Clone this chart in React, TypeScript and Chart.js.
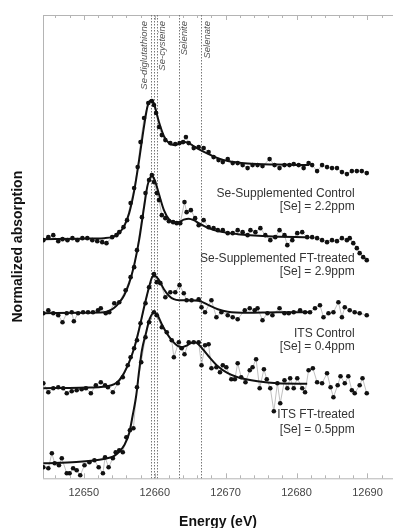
import React, { useEffect, useRef } from 'react';
import { Chart, registerables } from 'chart.js';
Chart.register(...registerables);

// ---- axis ----
const xTicks = [12650, 12660, 12670, 12680, 12690];
const xMin = 12644.25;
const xMax = 12693.6;
const yMin = 0;
const yMax = 4.63;

// ---- reference compounds ----
const refEnergies = [12659.5, 12659.88, 12660.26, 12663.37, 12666.54];
const refLabels = ['Se-diglutathione', '', 'Se-cysteine', 'Selenite', 'Selenate'];

// ---- samples ----
const sampleNames = ['Se-Supplemented Control', 'Se-Supplemented FT-treated', 'ITS Control', 'ITS FT-treated'];
const sampleConc = ['[Se] = 2.2ppm', '[Se] = 2.9ppm', '[Se] = 0.4ppm', '[Se] = 0.5ppm'];

// ---- spectrum 1 : Se-Supplemented Control ----
const s1E = [12644.3, 12645.0, 12645.7, 12646.4, 12647.0, 12647.7, 12648.4, 12649.1, 12649.8, 12650.5, 12651.2, 12651.9, 12652.6, 12653.2, 12654.0, 12654.6, 12655.0, 12655.6, 12656.1, 12656.6, 12657.1, 12657.6, 12658.0, 12658.5, 12659.1, 12659.6, 12659.9, 12660.2, 12660.6, 12661.0, 12661.5, 12662.2, 12662.9, 12663.5, 12664.0, 12664.4, 12664.8, 12665.5, 12666.2, 12666.9, 12667.6, 12668.3, 12669.0, 12669.6, 12670.3, 12671.0, 12671.7, 12672.4, 12673.1, 12673.8, 12674.5, 12675.2, 12676.2, 12676.9, 12677.6, 12678.3, 12679.0, 12679.6, 12680.3, 12681.0, 12681.7, 12682.2, 12682.9, 12683.6, 12684.3, 12685.0, 12685.7, 12686.4, 12687.1, 12687.8, 12688.5, 12689.2, 12689.9];
const s1A = [2.38, 2.41, 2.43, 2.37, 2.39, 2.38, 2.40, 2.38, 2.40, 2.40, 2.38, 2.37, 2.36, 2.35, 2.41, 2.43, 2.46, 2.51, 2.58, 2.75, 2.90, 3.11, 3.36, 3.60, 3.75, 3.77, 3.73, 3.65, 3.51, 3.43, 3.38, 3.35, 3.34, 3.35, 3.36, 3.41, 3.35, 3.30, 3.31, 3.30, 3.26, 3.21, 3.18, 3.16, 3.19, 3.15, 3.15, 3.13, 3.10, 3.13, 3.13, 3.12, 3.19, 3.13, 3.10, 3.13, 3.13, 3.14, 3.13, 3.10, 3.15, 3.13, 3.07, 3.13, 3.11, 3.10, 3.10, 3.06, 3.04, 3.07, 3.07, 3.07, 3.05];
const f1E = [12644.3, 12649.4, 12652.9, 12654.0, 12654.6, 12655.1, 12655.7, 12656.4, 12657.1, 12657.8, 12658.5, 12659.0, 12659.5, 12660.0, 12660.6, 12661.3, 12662.0, 12662.7, 12663.4, 12664.1, 12664.8, 12665.5, 12666.2, 12667.6, 12668.9, 12670.3, 12673.1, 12677.3, 12681.8];
const f1A = [2.39, 2.395, 2.40, 2.41, 2.43, 2.46, 2.52, 2.65, 2.87, 3.18, 3.52, 3.72, 3.78, 3.72, 3.56, 3.42, 3.35, 3.33, 3.34, 3.36, 3.35, 3.32, 3.29, 3.24, 3.20, 3.17, 3.145, 3.135, 3.13];

// ---- spectrum 2 : Se-Supplemented FT-treated ----
const s2E = [12644.3, 12645.0, 12645.7, 12646.4, 12647.0, 12647.6, 12648.3, 12648.6, 12649.2, 12649.9, 12650.6, 12651.3, 12652.0, 12652.4, 12653.1, 12653.6, 12654.3, 12655.0, 12655.9, 12656.6, 12657.1, 12657.5, 12658.2, 12658.7, 12659.2, 12659.6, 12659.9, 12660.3, 12660.6, 12661.0, 12661.5, 12662.0, 12662.6, 12663.1, 12663.6, 12664.2, 12664.5, 12665.1, 12665.7, 12666.2, 12666.9, 12667.6, 12668.3, 12668.9, 12669.6, 12670.3, 12671.0, 12671.7, 12672.4, 12673.1, 12673.5, 12674.2, 12674.9, 12675.6, 12676.3, 12677.0, 12677.6, 12678.3, 12678.7, 12679.4, 12680.1, 12680.8, 12681.5, 12682.2, 12682.9, 12683.6, 12684.3, 12685.0, 12685.7, 12686.4, 12687.1, 12687.5, 12688.0, 12688.5, 12688.9, 12689.4, 12689.9];
const s2A = [1.65, 1.68, 1.65, 1.63, 1.56, 1.65, 1.66, 1.57, 1.65, 1.66, 1.66, 1.66, 1.68, 1.70, 1.65, 1.66, 1.75, 1.76, 1.88, 2.01, 2.11, 2.28, 2.61, 2.85, 2.98, 3.03, 2.96, 2.85, 2.78, 2.63, 2.60, 2.57, 2.56, 2.55, 2.55, 2.76, 2.66, 2.68, 2.60, 2.53, 2.58, 2.51, 2.50, 2.48, 2.48, 2.45, 2.45, 2.48, 2.46, 2.43, 2.48, 2.46, 2.50, 2.43, 2.38, 2.41, 2.48, 2.43, 2.33, 2.38, 2.45, 2.46, 2.41, 2.41, 2.40, 2.38, 2.36, 2.38, 2.37, 2.40, 2.38, 2.40, 2.35, 2.30, 2.25, 2.21, 2.18];
const f2E = [12644.3, 12649.4, 12652.9, 12653.6, 12654.3, 12655.0, 12655.7, 12656.4, 12657.1, 12657.8, 12658.5, 12659.0, 12659.6, 12660.0, 12660.6, 12661.3, 12662.0, 12662.7, 12663.4, 12664.1, 12664.8, 12665.5, 12666.2, 12667.6, 12668.9, 12671.7, 12675.9, 12681.8];
const f2A = [1.65, 1.655, 1.66, 1.675, 1.705, 1.755, 1.83, 1.95, 2.13, 2.38, 2.71, 2.93, 3.02, 2.98, 2.84, 2.68, 2.59, 2.56, 2.56, 2.585, 2.595, 2.58, 2.55, 2.50, 2.47, 2.44, 2.42, 2.41];

// ---- spectrum 3 : ITS Control ----
const s3E = [12644.3, 12645.0, 12645.7, 12646.4, 12647.1, 12647.6, 12648.3, 12649.0, 12649.7, 12650.3, 12651.0, 12651.7, 12652.4, 12653.0, 12653.4, 12654.1, 12654.8, 12655.5, 12656.2, 12656.6, 12657.1, 12657.5, 12658.0, 12658.7, 12659.2, 12659.9, 12660.3, 12660.8, 12661.5, 12662.2, 12662.9, 12663.5, 12664.1, 12664.5, 12665.2, 12666.2, 12666.6, 12667.1, 12668.0, 12668.7, 12669.4, 12670.3, 12671.0, 12671.7, 12672.7, 12673.4, 12674.1, 12674.5, 12675.2, 12675.9, 12676.6, 12677.6, 12678.3, 12678.9, 12679.6, 12680.5, 12681.2, 12681.9, 12682.6, 12683.3, 12683.8, 12684.5, 12685.2, 12685.9, 12686.4, 12686.8, 12687.5, 12688.2, 12688.9, 12689.9];
const s3A = [0.95, 0.86, 0.90, 0.91, 0.90, 0.85, 0.87, 0.88, 0.89, 0.90, 0.85, 0.93, 0.96, 0.93, 0.91, 0.86, 0.95, 1.01, 1.13, 1.21, 1.30, 1.38, 1.55, 1.75, 1.91, 2.04, 1.96, 1.95, 1.81, 1.86, 1.86, 1.93, 1.85, 1.78, 1.78, 1.79, 1.71, 1.66, 1.78, 1.61, 1.66, 1.63, 1.61, 1.59, 1.68, 1.70, 1.68, 1.70, 1.58, 1.65, 1.63, 1.70, 1.65, 1.65, 1.66, 1.68, 1.66, 1.66, 1.70, 1.73, 1.61, 1.65, 1.66, 1.76, 1.61, 1.71, 1.68, 1.66, 1.65, 1.63];
const f3E = [12644.3, 12649.4, 12653.3, 12654.3, 12655.0, 12655.7, 12656.4, 12657.1, 12657.8, 12658.5, 12659.2, 12659.7, 12660.1, 12660.6, 12661.3, 12662.0, 12662.7, 12663.4, 12664.8, 12666.2, 12667.6, 12668.9, 12670.3, 12673.1, 12677.3, 12681.8];
const f3A = [0.90, 0.905, 0.92, 0.94, 0.98, 1.055, 1.16, 1.30, 1.49, 1.71, 1.91, 2.015, 2.02, 1.98, 1.89, 1.825, 1.79, 1.78, 1.78, 1.775, 1.73, 1.69, 1.665, 1.655, 1.66, 1.66];

// ---- spectrum 4 : ITS FT-treated ----
const s4E = [12644.3, 12645.0, 12645.5, 12645.9, 12646.5, 12646.9, 12647.6, 12648.0, 12648.5, 12649.0, 12649.5, 12650.1, 12650.8, 12651.5, 12652.1, 12652.7, 12653.0, 12653.5, 12654.1, 12654.5, 12655.0, 12655.5, 12656.0, 12656.5, 12657.0, 12657.5, 12658.1, 12658.7, 12659.2, 12659.9, 12660.3, 12661.0, 12661.7, 12662.4, 12662.7, 12663.4, 12663.8, 12664.2, 12664.8, 12665.5, 12666.2, 12666.6, 12667.1, 12667.6, 12668.0, 12668.7, 12669.2, 12669.6, 12670.1, 12670.8, 12671.3, 12671.7, 12672.2, 12672.8, 12673.4, 12673.8, 12674.3, 12674.8, 12675.4, 12675.8, 12676.3, 12676.8, 12677.3, 12677.7, 12678.3, 12678.7, 12679.1, 12679.6, 12680.1, 12680.8, 12681.2, 12681.7, 12682.3, 12682.9, 12683.6, 12684.3, 12684.8, 12685.2, 12685.8, 12686.2, 12686.8, 12687.3, 12687.8, 12688.2, 12688.9, 12689.3, 12689.9];
const s4A = [0.11, 0.10, 0.25, 0.15, 0.13, 0.20, 0.05, 0.05, 0.10, 0.08, 0.03, 0.13, 0.16, 0.18, 0.11, 0.05, 0.21, 0.11, 0.20, 0.26, 0.28, 0.26, 0.41, 0.48, 0.50, 0.91, 1.16, 1.41, 1.56, 1.66, 1.63, 1.51, 1.46, 1.38, 1.21, 1.36, 1.30, 1.24, 1.36, 1.36, 1.36, 1.13, 1.33, 1.34, 1.10, 1.11, 1.06, 1.13, 1.11, 0.99, 0.99, 1.15, 1.01, 0.96, 1.08, 1.11, 1.19, 0.90, 1.09, 0.99, 0.90, 0.67, 0.95, 0.75, 0.98, 0.90, 1.00, 0.90, 1.00, 0.90, 0.86, 1.08, 1.10, 0.96, 0.95, 1.05, 0.91, 0.81, 0.93, 1.02, 0.95, 1.02, 0.88, 0.85, 0.93, 1.00, 0.85];
const f4E = [12644.3, 12646.6, 12649.4, 12652.2, 12653.6, 12654.3, 12655.0, 12655.7, 12656.4, 12656.9, 12657.4, 12657.8, 12658.2, 12658.8, 12659.3, 12659.9, 12660.3, 12661.0, 12661.7, 12662.4, 12663.1, 12663.8, 12664.5, 12665.2, 12665.7, 12666.3, 12666.9, 12667.6, 12668.9, 12670.3, 12671.7, 12674.5, 12677.3, 12681.5];
const f4A = [0.15, 0.155, 0.165, 0.185, 0.205, 0.225, 0.265, 0.33, 0.45, 0.63, 0.83, 1.07, 1.28, 1.46, 1.595, 1.655, 1.64, 1.54, 1.45, 1.38, 1.33, 1.31, 1.325, 1.355, 1.36, 1.33, 1.28, 1.22, 1.12, 1.05, 1.01, 0.97, 0.95, 0.945];

const spectra = [
  { e: s1E, a: s1A, fe: f1E, fa: f1A },
  { e: s2E, a: s2A, fe: f2E, fa: f2A },
  { e: s3E, a: s3A, fe: f3E, fa: f3A },
  { e: s4E, a: s4A, fe: f4E, fa: f4A },
];

// label layout (energy / absorption anchors for the sample captions)
const captionE = 12688.2;
const captionNameY = [2.847, 2.197, 1.447, 0.64];
const captionConcY = [2.717, 2.063, 1.313, 0.487];

const FONT = '"Liberation Sans", Arial, sans-serif';

const framePlugin = {
  id: 'frame',
  beforeDatasetsDraw(chart: any) {
    const { ctx, chartArea, scales } = chart;
    const { left, right, top, bottom } = chartArea;
    const x = scales.x;
    ctx.save();
    ctx.strokeStyle = '#b4b4b4';
    ctx.lineWidth = 1;
    ctx.beginPath();
    ctx.moveTo(left + 0.5, top);
    ctx.lineTo(left + 0.5, bottom);
    ctx.moveTo(left, top + 0.5);
    ctx.lineTo(right, top + 0.5);
    ctx.moveTo(left, bottom + 0.5);
    ctx.lineTo(right, bottom + 0.5);
    for (let v = 12646; v <= 12692; v += 2) {
      const px = Math.round(x.getPixelForValue(v)) + 0.5;
      const major = v % 10 === 0;
      ctx.moveTo(px, bottom);
      ctx.lineTo(px, bottom - (major ? 5 : 3));
      ctx.moveTo(px, top);
      ctx.lineTo(px, top + (major ? 5 : 3));
    }
    ctx.stroke();

    // reference dotted lines
    ctx.strokeStyle = '#777';
    ctx.setLineDash([1.5, 1.5]);
    refEnergies.forEach((e) => {
      const px = Math.round(x.getPixelForValue(e)) + 0.5;
      ctx.beginPath();
      ctx.moveTo(px, top);
      ctx.lineTo(px, bottom);
      ctx.stroke();
    });
    ctx.setLineDash([]);

    // reference labels
    ctx.fillStyle = '#555';
    ctx.font = 'italic 9.5px ' + FONT;
    ctx.textAlign = 'right';
    ctx.textBaseline = 'middle';
    refLabels.forEach((lab, i) => {
      if (!lab) return;
      const px = x.getPixelForValue(refEnergies[i]) + (i === 0 ? -7 : 6);
      ctx.save();
      ctx.translate(px, top + 6);
      ctx.rotate(-Math.PI / 2);
      ctx.fillText(lab, 0, 0);
      ctx.restore();
    });
    ctx.restore();
  },
  afterDatasetsDraw(chart: any) {
    const { ctx, scales } = chart;
    const x = scales.x;
    const y = scales.y;
    ctx.save();
    ctx.fillStyle = '#333';
    ctx.font = '12px ' + FONT;
    ctx.textAlign = 'right';
    ctx.textBaseline = 'middle';
    const px = x.getPixelForValue(captionE);
    sampleNames.forEach((n, i) => {
      ctx.fillText(n, px, y.getPixelForValue(captionNameY[i]));
      ctx.fillText(sampleConc[i], px, y.getPixelForValue(captionConcY[i]));
    });
    ctx.restore();
  },
};

export default function App() {
  const ref = useRef<HTMLCanvasElement>(null);
  useEffect(() => {
    if (!ref.current) return;
    const datasets: any[] = [];
    spectra.forEach((s) => {
      datasets.push({
        data: s.e.map((e, i) => ({ x: e, y: s.a[i] })),
        borderColor: '#b0b0b0',
        borderWidth: 0.8,
        pointRadius: 2.3,
        pointBackgroundColor: '#111',
        pointBorderWidth: 0,
        tension: 0,
        order: 2,
      });
    });
    spectra.forEach((s) => {
      datasets.push({
        data: s.fe.map((e, i) => ({ x: e, y: s.fa[i] })),
        borderColor: '#111',
        borderWidth: 2,
        pointRadius: 0,
        cubicInterpolationMode: 'monotone',
        order: 1,
      });
    });
    const chart = new Chart(ref.current, {
      type: 'line',
      data: { datasets },
      options: {
        animation: false,
        responsive: false,
        devicePixelRatio: 1,
        layout: { padding: { left: 0, right: 0, top: 15, bottom: 0 } },
        plugins: { legend: { display: false }, tooltip: { enabled: false } },
        scales: {
          x: {
            type: 'linear',
            min: xMin,
            max: xMax,
            grid: { display: false, drawTicks: false },
            border: { display: false },
            afterBuildTicks: (scale: any) => {
              scale.ticks = xTicks.map((v) => ({ value: v }));
            },
            ticks: {
              padding: 8.5,
              color: '#444',
              font: { family: FONT, size: 11 },
              callback: (v: any) => String(v),
            },
            title: {
              display: true,
              text: 'Energy (eV)',
              color: '#111',
              font: { family: FONT, size: 14, weight: 'bold', lineHeight: 0.8 },
              padding: { top: 8.3, bottom: 0 },
            },
          },
          y: {
            type: 'linear',
            min: yMin,
            max: yMax,
            grid: { display: false, drawTicks: false },
            border: { display: false },
            ticks: { display: false },
            title: {
              display: true,
              text: 'Normalized absorption',
              color: '#111',
              font: { family: FONT, size: 14, weight: 'bold', lineHeight: 1 },
              padding: { top: 11, bottom: 18 },
            },
          },
        },
      },
      plugins: [framePlugin],
    });
    return () => chart.destroy();
  }, []);
  return (
    <div style={{ position: 'absolute', left: 0, top: 0, width: 397, height: 528, background: '#fff' }}>
      <canvas ref={ref} width={397} height={528} style={{ display: 'block' }} />
    </div>
  );
}
